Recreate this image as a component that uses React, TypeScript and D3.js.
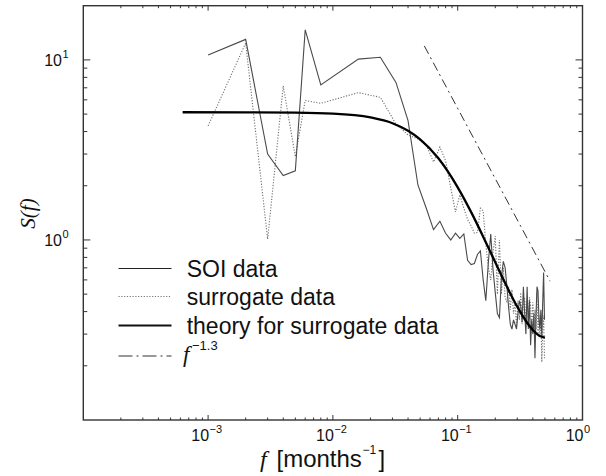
import React from 'react';
import * as d3 from 'd3';

const W = 606;
const H = 476;

// SOI data spectrum
const soiFreq = [0.001, 0.002, 0.003, 0.004, 0.005, 0.006, 0.008, 0.016, 0.024, 0.032, 0.04, 0.048, 0.056, 0.064, 0.072, 0.08, 0.088, 0.096, 0.104, 0.112, 0.12, 0.128, 0.136, 0.144, 0.152, 0.16, 0.168, 0.176, 0.184, 0.192, 0.2, 0.208, 0.216, 0.224, 0.232, 0.24, 0.248, 0.256, 0.264, 0.272, 0.28, 0.288, 0.296, 0.304, 0.312, 0.32, 0.328, 0.336, 0.344, 0.352, 0.36, 0.368, 0.376, 0.384, 0.392, 0.4, 0.408, 0.416, 0.424, 0.432, 0.44, 0.448, 0.456, 0.464, 0.472, 0.48, 0.488, 0.496];
const soiS = [10.66, 13.0, 3.0, 2.28, 2.42, 14.7, 7.27, 10.1, 10.35, 7.5, 4.6, 2.02, 1.5, 1.14, 1.27, 1.09, 1.0, 1.09, 1.02, 1.08, 0.77, 0.73, 0.74, 0.83, 0.87, 0.6, 0.46, 0.75, 1.08, 0.68, 0.51, 0.39, 0.37, 0.62, 0.76, 0.7, 0.55, 0.42, 0.34, 0.32, 0.36, 0.34, 0.32, 0.39, 0.46, 0.43, 0.35, 0.55, 0.39, 0.3, 0.55, 0.32, 0.46, 0.26, 0.36, 0.3, 0.39, 0.22, 0.38, 0.55, 0.52, 0.36, 0.32, 0.41, 0.29, 0.45, 0.66, 0.36];

// surrogate data spectrum
const surFreq = soiFreq;
const surS = [4.3, 12.4, 1.01, 7.17, 2.9, 5.95, 5.74, 6.58, 6.2, 4.4, 3.83, 3.64, 3.37, 2.71, 3.28, 2.75, 1.95, 1.43, 1.78, 1.5, 1.3, 1.2, 1.09, 1.1, 1.5, 1.45, 0.95, 0.7, 0.6, 0.86, 1.05, 0.5, 1.0, 0.5, 0.7, 0.48, 0.45, 0.55, 0.41, 0.53, 0.39, 0.45, 0.33, 0.46, 0.36, 0.51, 0.34, 0.43, 0.48, 0.33, 0.46, 0.36, 0.48, 0.43, 0.32, 0.45, 0.33, 0.41, 0.32, 0.51, 0.3, 0.38, 0.29, 0.39, 0.21, 0.32, 0.38, 0.22];

// theory for surrogate data
const theoryFreq = [0.000625, 0.002, 0.005, 0.01, 0.02, 0.03, 0.04, 0.05, 0.07, 0.1, 0.13, 0.16, 0.2, 0.25, 0.3, 0.35, 0.4, 0.45, 0.5];
const theoryS = [5.12, 5.11, 5.09, 5.03, 4.79, 4.45, 4.04, 3.62, 2.84, 1.96, 1.4, 1.043, 0.751, 0.544, 0.426, 0.357, 0.316, 0.294, 0.287];

// f^-1.3 reference line
const powFreq = [0.054, 0.55];
const powS = [11.96, 0.59];

const xTickValues = [1e-3, 1e-2, 1e-1, 1];
const xTickExp = ['\u22123', '\u22122', '\u22121', '0'];
const yTickValues = [1, 10];
const yTickExp = ['0', '1'];

const legendLabels = ['SOI data', 'surrogate data', 'theory for surrogate data'];

const SANS = '"Liberation Sans", Arial, Helvetica, sans-serif';
const SERIF = '"Liberation Serif", "Times New Roman", serif';

export default function App() {
  const left = 83.3, right = 582.5, top = 5.7, bottom = 420;
  const x = d3.scaleLog().domain([1e-4, 1]).range([left, right]);
  const y = d3.scaleLog().domain([0.1, 20]).range([bottom, top]);

  const line = d3.line<[number, number]>().x(d => x(d[0])).y(d => y(d[1]));
  const smooth = d3.line<[number, number]>().x(d => x(d[0])).y(d => y(d[1])).curve(d3.curveMonotoneX);

  const soi = soiFreq.map((f, i) => [f, soiS[i]] as [number, number]);
  const sur = surFreq.map((f, i) => [f, surS[i]] as [number, number]);
  const th = theoryFreq.map((f, i) => [f, theoryS[i]] as [number, number]);
  const pw = powFreq.map((f, i) => [f, powS[i]] as [number, number]);

  const isMajor = (v: number) => Math.abs(Math.log10(v) - Math.round(Math.log10(v))) < 1e-6;
  const xt = x.ticks().filter(v => v > 1e-4 && v < 1);
  const yt = y.ticks().filter(v => v > 0.1 && v < 20);

  const frame = '#333';
  const legendY = [268.5, 296.5, 325.5, 356];

  return (
    <svg width={W} height={H} style={{ position: 'absolute', left: 0, top: 0, background: '#fff' }}>
      <rect x={0} y={0} width={W} height={H} fill="#fff" />
      {xt.map((v, i) => {
        const len = isMajor(v) ? 5 : 2.5;
        return (
          <g key={'xt' + i}>
            <line x1={x(v)} x2={x(v)} y1={bottom} y2={bottom - len} stroke={frame} strokeWidth={1} />
            <line x1={x(v)} x2={x(v)} y1={top} y2={top + len} stroke={frame} strokeWidth={1} />
          </g>
        );
      })}
      {yt.map((v, i) => {
        const len = isMajor(v) ? 7 : 4;
        return (
          <g key={'yt' + i}>
            <line x1={left} x2={left + len} y1={y(v)} y2={y(v)} stroke={frame} strokeWidth={1} />
            <line x1={right} x2={right - len} y1={y(v)} y2={y(v)} stroke={frame} strokeWidth={1} />
          </g>
        );
      })}
      <path d={line(sur) || ''} fill="none" stroke="#707070" strokeWidth={1.1} strokeDasharray="1.2,1.6" />
      <path d={line(soi) || ''} fill="none" stroke="#4a4a4a" strokeWidth={1.1} />
      <path d={smooth(th) || ''} fill="none" stroke="#000" strokeWidth={2.3} />
      <path d={line(pw) || ''} fill="none" stroke="#333" strokeWidth={1} strokeDasharray="9,4,2,4" />
      <rect x={left} y={top} width={right - left} height={bottom - top} fill="none" stroke={frame} strokeWidth={1.4} />
      {xTickValues.map((v, i) => (
        <g key={'xl' + i}>
          <text x={x(v) + 1} y={440.5} fontFamily={SANS} fontSize={16} textAnchor="end" fill="#111">10</text>
          <text x={x(v) + 1.5} y={432.5} fontFamily={SANS} fontSize={11} fill="#111">{xTickExp[i]}</text>
        </g>
      ))}
      {yTickValues.map((v, i) => (
        <g key={'yl' + i}>
          <text x={62} y={y(v) + 6.5} fontFamily={SANS} fontSize={16} textAnchor="end" fill="#111">10</text>
          <text x={62.5} y={y(v) - 1.5} fontFamily={SANS} fontSize={11} fill="#111">{yTickExp[i]}</text>
        </g>
      ))}
      <text transform="translate(34.5,213.5) rotate(-90)" textAnchor="middle" fontFamily={SERIF} fontStyle="italic" fontSize={21} fill="#111">S(f)</text>
      <text x={260} y={467} fontFamily={SERIF} fontStyle="italic" fontSize={24} fill="#111">f</text>
      <text x={276.5} y={467} fontFamily={SANS} fontSize={24} fill="#111">[months</text>
      <text x={362.5} y={454} fontFamily={SANS} fontSize={12} fill="#111">{'\u22121'}</text>
      <text x={378.5} y={467} fontFamily={SANS} fontSize={24} fill="#111">]</text>
      <line x1={118.5} x2={171.5} y1={legendY[0]} y2={legendY[0]} stroke="#222" strokeWidth={1.1} />
      <line x1={118.5} x2={171.5} y1={legendY[1]} y2={legendY[1]} stroke="#777" strokeWidth={1.1} strokeDasharray="1.2,1.6" />
      <line x1={118.5} x2={171.5} y1={legendY[2]} y2={legendY[2]} stroke="#111" strokeWidth={1.8} />
      <line x1={118.5} x2={171.5} y1={legendY[3]} y2={legendY[3]} stroke="#333" strokeWidth={1} strokeDasharray="14,4,2,4" />
      {legendLabels.map((t, i) => (
        <text key={'lg' + i} x={186.7} y={legendY[i] + 8.3} fontFamily={SANS} fontSize={23} fill="#111">{t}</text>
      ))}
      <text x={183} y={362} fontFamily={SERIF} fontStyle="italic" fontSize={23} fill="#111">f</text>
      <text x={192} y={350} fontFamily={SANS} fontSize={13} fill="#111">{'\u22121.3'}</text>
    </svg>
  );
}
